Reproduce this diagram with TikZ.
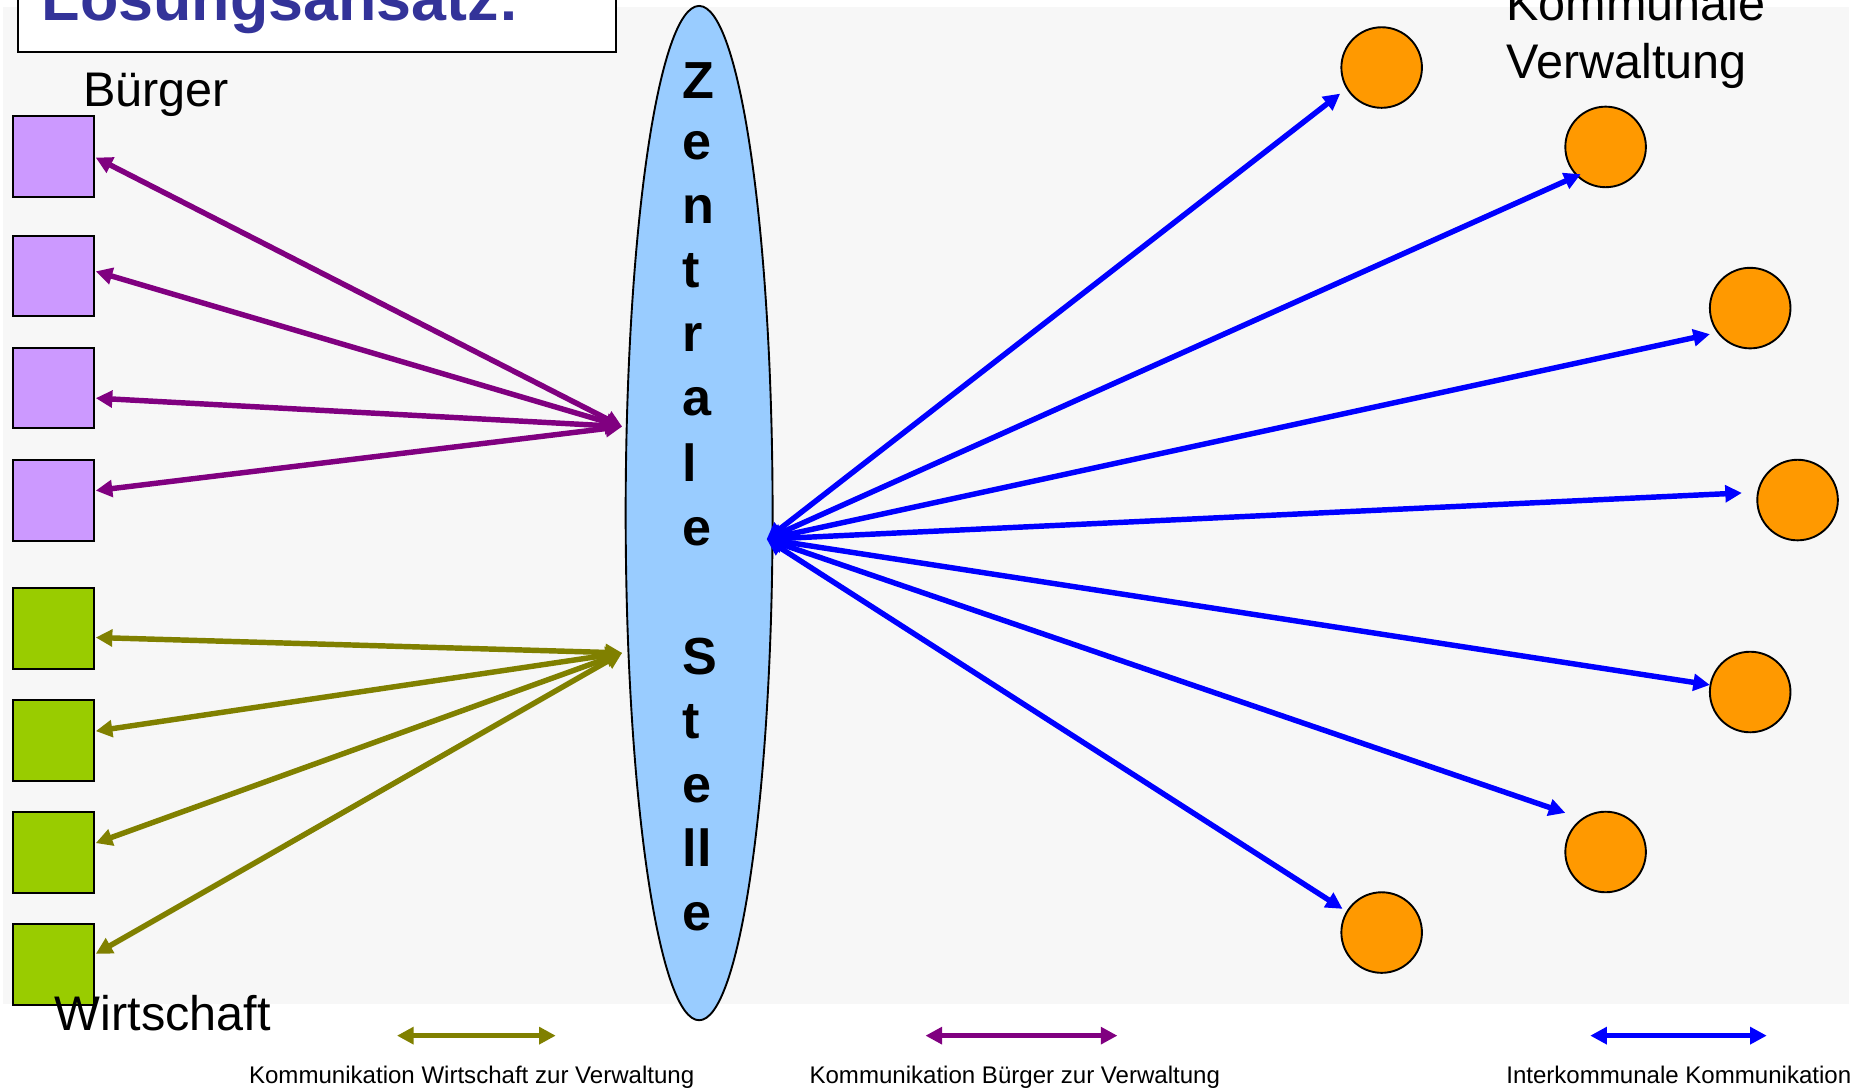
\documentclass[tikz,border=0pt]{standalone}
\usepackage{fontspec}
\setmainfont{Liberation Sans}
\usetikzlibrary{arrows.meta,shapes.geometric}
\definecolor{bggray}{HTML}{F7F7F7}
\definecolor{lilac}{HTML}{CC99FF}
\definecolor{lgreen}{HTML}{99CC00}
\definecolor{orng}{HTML}{FF9900}
\definecolor{lblue}{HTML}{99CCFF}
\definecolor{purp}{HTML}{800080}
\definecolor{oliv}{HTML}{808000}
\definecolor{blu}{HTML}{0000FF}
\definecolor{titleblue}{HTML}{333399}
\begin{document}
\begin{tikzpicture}[x=1pt,y=-1pt,
  sqbox/.style={draw=black,line width=1.6pt,minimum size=68pt,inner sep=0pt},
  burg/.style={sqbox,fill=lilac},
  wirt/.style={sqbox,fill=lgreen},
  kreis/.style={circle,draw=black,line width=1.6pt,fill=orng,minimum size=68pt,inner sep=0pt},
  conn/.style={line width=4.6pt,{Triangle[length=14pt,width=14pt]}-{Triangle[length=14pt,width=14pt]}},
  pl/.style={conn,draw=purp,fill=purp},
  gl/.style={conn,draw=oliv,fill=oliv},
  bl/.style={conn,draw=blu,fill=blu},
  lbl/.style={font=\fontsize{41}{48}\selectfont,inner sep=0pt,anchor=base west},
  leg/.style={font=\fontsize{20.3}{24}\selectfont,inner sep=0pt,anchor=base west},
  letter/.style={font=\fontsize{44}{50}\selectfont\bfseries,inner sep=0pt,anchor=base west}
]
\useasboundingbox (0,0) rectangle (1568,920);
\clip (0,0) rectangle (1568,920);
\fill[bggray] (2.5,6) rectangle (1560,847);

% title
\node[draw=black,fill=white,line width=1.5pt,minimum width=505pt,minimum height=84pt,inner sep=0pt] (titlebox) at (267.5,2) {};
\node[font=\fontsize{53}{60}\selectfont\bfseries,text=titleblue,inner sep=0pt,anchor=base west] (title) at (35,17) {Lösungsansatz:};

% central ellipse
\node[ellipse,draw=black,line width=1.6pt,fill=lblue,minimum width=124pt,minimum height=856pt,inner sep=0pt] (zs) at (590,433) {};
\foreach \ch/\yy [count=\i] in {Z/83,e/135,n/189,t/243,r/297,a/351,l/406,e/460,S/569,t/623,e/677,ll/731,e/785}
  \node[letter] (L\i) at (576,\yy) {\ch};

% squares
\node[burg] (p1) at (45,132) {};
\node[burg] (p2) at (45,233) {};
\node[burg] (p3) at (45,327.5) {};
\node[burg] (p4) at (45,422.5) {};
\node[wirt] (g1) at (45,530.5) {};
\node[wirt] (g2) at (45,625) {};
\node[wirt] (g3) at (45,719.5) {};
\node[wirt] (g4) at (45,814) {};

% circles
\node[kreis] (c1) at (1166,57) {};
\node[kreis] (c2) at (1355,124) {};
\node[kreis] (c3) at (1477,260) {};
\node[kreis] (c4) at (1517,422) {};
\node[kreis] (c5) at (1477,584) {};
\node[kreis] (c6) at (1355,719) {};
\node[kreis] (c7) at (1166,787) {};

% labels
\node[lbl] (lbuerger) at (70,90) {Bürger};
\node[lbl] (lwirt) at (46,870) {Wirtschaft};
\node[lbl] (lkom1) at (1271,17) {Kommunale};
\node[lbl] (lkom2) at (1271,66) {Verwaltung};

% hubs
\coordinate (hubP) at (525,360);
\coordinate (hubG) at (525,551);
\coordinate (hubB) at (647,455);

% purple connectors
\draw[pl] (hubP) -- ([shift={(1,1)}]p1.east);
\draw[pl] (hubP) -- ([shift={(1,-4)}]p2.east);
\draw[pl] (hubP) -- ([shift={(1,8.5)}]p3.east);
\draw[pl] (hubP) -- ([shift={(1,-8.5)}]p4.east);
% olive connectors
\draw[gl] (hubG) -- ([shift={(1,7.5)}]g1.east);
\draw[gl] (hubG) -- ([shift={(1,-8)}]g2.east);
\draw[gl] (hubG) -- ([shift={(1,-8)}]g3.east);
\draw[gl] (hubG) -- ([shift={(1,-9)}]g4.east);
% blue connectors
\draw[bl] (hubB) -- ([shift={(-35,22)}]c1.center);
\draw[bl] (hubB) -- ([shift={(-21,23)}]c2.center);
\draw[bl] (hubB) -- ([shift={(-34,22)}]c3.center);
\draw[bl] (hubB) -- ([shift={(-47,-6)}]c4.center);
\draw[bl] (hubB) -- ([shift={(-34,-6)}]c5.center);
\draw[bl] (hubB) -- ([shift={(-34,-33)}]c6.center);
\draw[bl] (hubB) -- ([shift={(-33,-20)}]c7.center);

% legend
\coordinate (lga) at (335,874); \coordinate (lgb) at (469,874);
\coordinate (lpa) at (781,874); \coordinate (lpb) at (943,874);
\coordinate (lba) at (1342,874); \coordinate (lbb) at (1491,874);
\draw[gl] (lga) -- (lgb);
\draw[pl] (lpa) -- (lpb);
\draw[bl] (lba) -- (lbb);
\node[leg] (legG) at (210,914) {Kommunikation Wirtschaft zur Verwaltung};
\node[leg] (legP) at (683,914) {Kommunikation Bürger zur Verwaltung};
\node[leg] (legB) at (1271,914) {Interkommunale Kommunikation};
\end{tikzpicture}
\end{document}
